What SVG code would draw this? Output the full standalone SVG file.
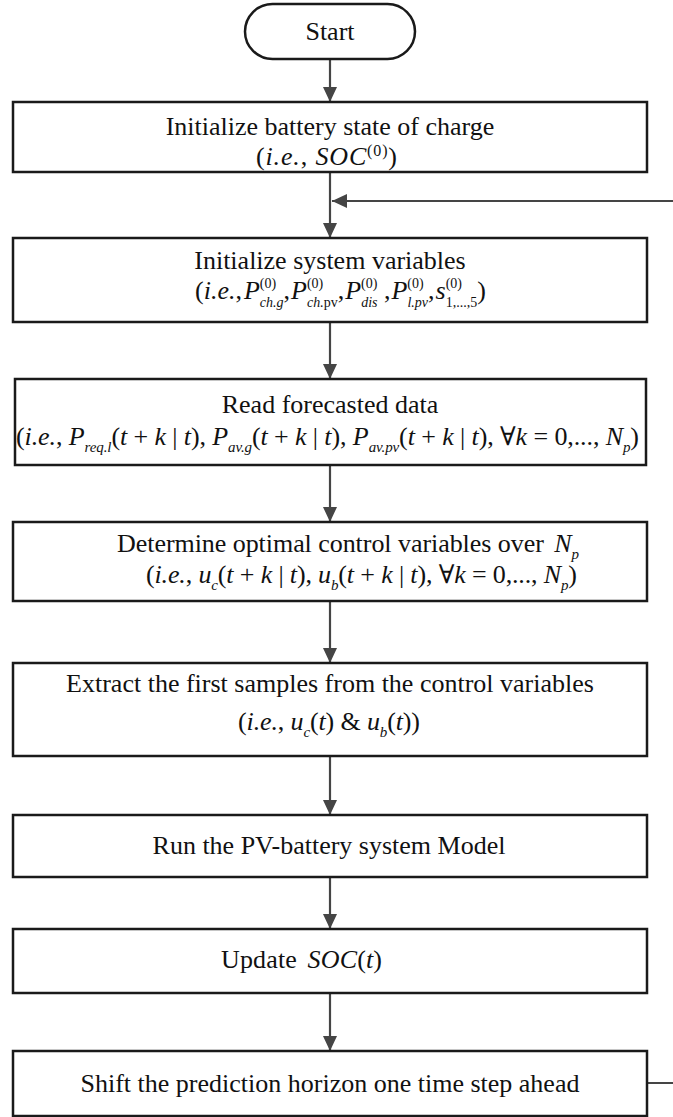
<svg xmlns="http://www.w3.org/2000/svg" width="673" height="1117" viewBox="0 0 673 1117">
  <style>
    .box { fill: #ffffff; stroke: #1a1a1a; stroke-width: 2.5; }
    .t { font-family: "Liberation Serif", "DejaVu Serif", serif; font-size: 26px; fill: #111111; }
    .i { font-style: italic; }
    .s { font-size: 15px; }
    .ss { font-size: 14px; }
    .conn { stroke: #454545; stroke-width: 2.2; fill: none; marker-end: url(#arrow); }
  </style>
  <defs>
    <marker id="arrow" viewBox="0 0 15 14" refX="15" refY="7" markerWidth="15" markerHeight="14" markerUnits="userSpaceOnUse" orient="auto">
      <path d="M0,0 L15,7 L0,14 z" fill="#454545"/>
    </marker>
  </defs>

  <rect width="673" height="1117" fill="#ffffff"/>

  <!-- connectors -->
  <g id="connectors">
    <path class="conn" d="M330,59 V102"/>
    <path class="conn" d="M330,172 V238"/>
    <path class="conn" d="M330,322 V379"/>
    <path class="conn" d="M330,465 V522"/>
    <path class="conn" d="M330,601 V663"/>
    <path class="conn" d="M330,756 V815"/>
    <path class="conn" d="M330,877 V929"/>
    <path class="conn" d="M330,993 V1051"/>
    <!-- loop back from the horizon shift to the variable initialisation -->
    <path class="conn" d="M647,1083 H700 V201 H332"/>
  </g>

  <g id="start">
    <rect class="box" x="245" y="4" width="170" height="55" rx="27.5" ry="27.5"/>
    <text class="t" x="330" y="40" text-anchor="middle">Start</text>
  </g>

  <g id="init-soc">
    <rect class="box" x="13" y="102" width="634" height="70"/>
    <text class="t" x="330" y="135" text-anchor="middle">Initialize battery state of charge</text>
    <text class="t" x="256" y="165" textLength="141" lengthAdjust="spacing">(<tspan class="i">i.e.</tspan>, <tspan class="i">SOC</tspan><tspan style="font-size:16px" dy="-9">(0)</tspan><tspan dy="9">)</tspan></text>
  </g>

  <g id="init-vars">
    <rect class="box" x="13" y="238" width="634" height="84"/>
    <text class="t" x="330" y="269" text-anchor="middle">Initialize system variables</text>
    <text class="t" x="195" y="299">(<tspan class="i">i.e.</tspan>,<tspan class="i" dx="2">P</tspan><tspan class="ss" dy="-11">(0)</tspan><tspan class="ss i" dx="-16.3" dy="19">ch.g</tspan><tspan dy="-8">,</tspan><tspan class="i" dx="1">P</tspan><tspan class="ss" dy="-11">(0)</tspan><tspan class="ss i" dx="-16.3" dy="19">ch.</tspan><tspan class="ss">pv</tspan><tspan dy="-8">,</tspan><tspan class="i" dx="1">P</tspan><tspan class="ss" dy="-11">(0)</tspan><tspan class="ss i" dx="-16.3" dy="19">dis</tspan><tspan dy="-8"> ,</tspan><tspan class="i" dx="1">P</tspan><tspan class="ss" dy="-11">(0)</tspan><tspan class="ss i" dx="-16.3" dy="19">l.pv</tspan><tspan dy="-8">,</tspan><tspan class="i" dx="1">s</tspan><tspan class="ss" dy="-11">(0)</tspan><tspan class="ss" dx="-16.3" dy="19">1,...,5</tspan><tspan dy="-8">)</tspan></text>
  </g>

  <g id="read-forecast">
    <rect class="box" x="15" y="379" width="631" height="86"/>
    <text class="t" x="330" y="413" text-anchor="middle">Read forecasted data</text>
    <text class="t" x="16" y="445" textLength="623" lengthAdjust="spacing">(<tspan class="i">i.e.</tspan>, <tspan class="i">P</tspan><tspan class="s i" dy="7">req.l</tspan><tspan dy="-7">(</tspan><tspan class="i">t</tspan> + <tspan class="i">k</tspan> | <tspan class="i">t</tspan>), <tspan class="i">P</tspan><tspan class="s i" dy="7">av.g</tspan><tspan dy="-7">(</tspan><tspan class="i">t</tspan> + <tspan class="i">k</tspan> | <tspan class="i">t</tspan>), <tspan class="i">P</tspan><tspan class="s i" dy="7">av.pv</tspan><tspan dy="-7">(</tspan><tspan class="i">t</tspan> + <tspan class="i">k</tspan> | <tspan class="i">t</tspan>), ∀<tspan class="i">k</tspan> = 0,..., <tspan class="i">N</tspan><tspan class="s i" dy="7">p</tspan><tspan dy="-7">)</tspan></text>
  </g>

  <g id="optimise">
    <rect class="box" x="13" y="522" width="634" height="79"/>
    <text class="t" x="117" y="552" textLength="462" lengthAdjust="spacing">Determine optimal control variables over <tspan class="i" dx="4">N</tspan><tspan class="s i" dy="7">p</tspan></text>
    <text class="t" x="146" y="583" textLength="431" lengthAdjust="spacing">(<tspan class="i">i.e.</tspan>, <tspan class="i">u</tspan><tspan class="s i" dy="7">c</tspan><tspan dy="-7">(</tspan><tspan class="i">t</tspan> + <tspan class="i">k</tspan> | <tspan class="i">t</tspan>), <tspan class="i">u</tspan><tspan class="s i" dy="7">b</tspan><tspan dy="-7">(</tspan><tspan class="i">t</tspan> + <tspan class="i">k</tspan> | <tspan class="i">t</tspan>), ∀<tspan class="i">k</tspan> = 0,..., <tspan class="i">N</tspan><tspan class="s i" dy="7">p</tspan><tspan dy="-7">)</tspan></text>
  </g>

  <g id="extract">
    <rect class="box" x="13" y="663" width="634" height="93"/>
    <text class="t" x="330" y="692" text-anchor="middle">Extract the first samples from the control variables</text>
    <text class="t" x="238" y="730" textLength="182" lengthAdjust="spacing">(<tspan class="i">i.e.</tspan>, <tspan class="i">u</tspan><tspan class="s i" dy="7">c</tspan><tspan dy="-7">(</tspan><tspan class="i">t</tspan>) &amp; <tspan class="i">u</tspan><tspan class="s i" dy="7">b</tspan><tspan dy="-7">(</tspan><tspan class="i">t</tspan>))</text>
  </g>

  <g id="run-model">
    <rect class="box" x="13" y="815" width="634" height="62"/>
    <text class="t" x="329" y="854" text-anchor="middle">Run the PV-battery system Model</text>
  </g>

  <g id="update-soc">
    <rect class="box" x="13" y="929" width="634" height="64"/>
    <text class="t" x="221" y="968" textLength="161" lengthAdjust="spacing">Update <tspan class="i" dx="4">SOC</tspan>(<tspan class="i">t</tspan>)</text>
  </g>

  <g id="shift-horizon">
    <rect class="box" x="13" y="1051" width="634" height="65"/>
    <text class="t" x="330" y="1092" text-anchor="middle">Shift the prediction horizon one time step ahead</text>
  </g>
</svg>
